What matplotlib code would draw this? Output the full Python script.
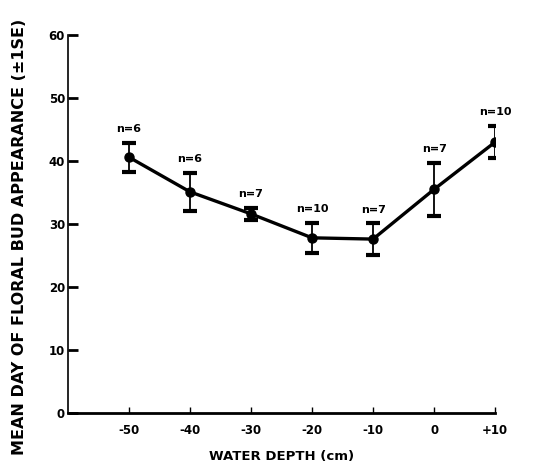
import matplotlib
matplotlib.use("Agg")
import matplotlib.pyplot as plt

# data
depth = [-50, -40, -30, -20, -10, 0, 10]
mean_day = [40.6, 35.1, 31.6, 27.8, 27.6, 35.5, 43.0]
se = [2.3, 3.0, 1.0, 2.4, 2.5, 4.2, 2.5]
n_labels = ["n=6", "n=6", "n=7", "n=10", "n=7", "n=7", "n=10"]
xticks = [-50, -40, -30, -20, -10, 0, 10]
xticklabels = ["-50", "-40", "-30", "-20", "-10", "0", "+10"]
yticks = [0, 10, 20, 30, 40, 50, 60]

plt.rcParams['font.family'] = ['DejaVu Sans']
plt.rcParams['font.weight'] = 'bold'

fig = plt.figure(figsize=(5.52, 4.72), dpi=100)
ax = fig.add_axes([0.123, 0.125, 0.774, 0.801])

ax.errorbar(depth, mean_day, yerr=se, color='black', lw=2.4, marker='o',
            ms=6.5, capsize=5, capthick=3, elinewidth=1.3)

for x, y, s, lab in zip(depth, mean_day, se, n_labels):
    ax.text(x, y + s + 1.4, lab, ha='center', va='bottom', fontsize=8,
            fontweight='bold')

ax.set_xlim(-60, 10)
ax.set_ylim(0, 60)
ax.set_xticks(xticks)
ax.set_xticklabels(xticklabels, fontsize=8.5, fontweight='bold')
ax.set_yticks(yticks)
ax.set_yticklabels([str(v) for v in yticks], fontsize=8.5, fontweight='bold')
ax.tick_params(axis='y', direction='in', length=7, width=2, pad=2)
ax.tick_params(axis='x', direction='in', length=4, width=1, pad=8)

for side in ['top', 'right']:
    ax.spines[side].set_visible(False)
ax.spines['left'].set_linewidth(1.2)
ax.spines['bottom'].set_linewidth(2)

ax.set_xlabel("WATER DEPTH (cm)", fontsize=9.5, fontweight='bold', labelpad=9)
ax.set_ylabel("MEAN DAY OF FLORAL BUD APPEARANCE (±1SE)", fontsize=11.5,
              fontweight='bold')
ax.yaxis.set_label_coords(-0.095, 0.465)

fig.savefig("out.png", dpi=100)
